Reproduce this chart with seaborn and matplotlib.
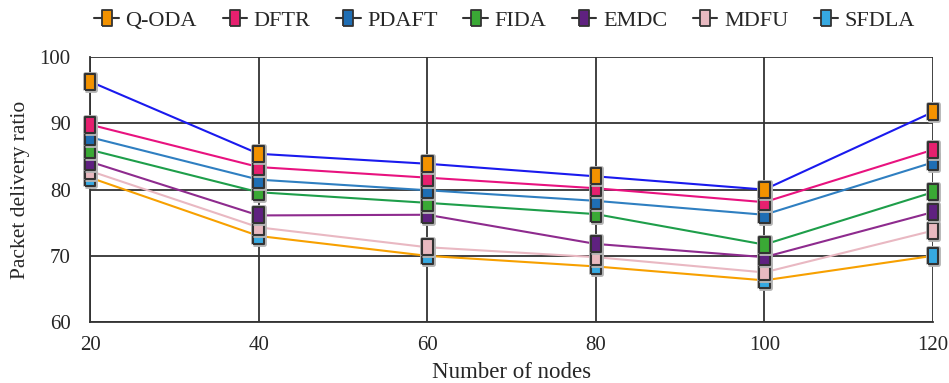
import matplotlib
matplotlib.use('Agg')
import matplotlib.pyplot as plt
import matplotlib.patheffects as pe
from matplotlib.lines import Line2D
import seaborn as sns
import pandas as pd

# valores
nodes = [20, 40, 60, 80, 100, 120]
q_oda = [96.3, 85.4, 83.9, 82.0, 80.0, 91.7]
dftr = [89.8, 83.4, 81.8, 80.2, 78.1, 86.0]
pdaft = [87.9, 81.5, 79.9, 78.3, 76.2, 84.1]
fida = [86.0, 79.6, 78.0, 76.3, 71.7, 79.6]
emdc = [84.2, 76.1, 76.2, 71.8, 69.8, 76.6]
mdfu = [82.8, 74.3, 71.3, 69.8, 67.5, 73.8]
sfdla = [81.8, 73.0, 70.0, 68.4, 66.3, 70.0]

methods = ['Q-ODA', 'DFTR', 'PDAFT', 'FIDA', 'EMDC', 'MDFU', 'SFDLA']
series = [q_oda, dftr, pdaft, fida, emdc, mdfu, sfdla]
line_colors = ['#1a1aee', '#e8127f', '#2f7fc1', '#1e9e4a', '#8e2b8e', '#e9b8c2', '#f7a000']
marker_colors = ['#f39200', '#e6206f', '#1f6eb4', '#3aa935', '#5f2180', '#e8b9c0', '#36a9e1']

df = pd.DataFrame({
    'nodes': nodes * len(methods),
    'pdr': [v for s in series for v in s],
    'method': [m for m in methods for _ in nodes],
})

sns.set_style('white')
plt.rcParams['font.family'] = ['Liberation Serif', 'DejaVu Serif']

fig, ax = plt.subplots(figsize=(9.49, 3.83), dpi=100)
fig.subplots_adjust(left=0.095, right=0.983, top=0.851, bottom=0.159)

sns.lineplot(data=df, x='nodes', y='pdr', hue='method', hue_order=methods,
             palette=line_colors, linewidth=1.5, legend=False, ax=ax, zorder=5)

# marcador rectangular alto
rect = [(-0.33, -0.5), (0.33, -0.5), (0.33, 0.5), (-0.33, 0.5), (-0.33, -0.5)]
shadow = [pe.withStroke(linewidth=3.5, foreground='#b5b5b5')]
for i, (name, vals) in enumerate(zip(methods, series)):
    ax.plot(nodes, vals, linestyle='none', marker=rect, markersize=11.5,
            mfc=marker_colors[i], mec='#333333', mew=1.5, zorder=20 - i,
            clip_on=False, path_effects=shadow)

ax.set_xlim(20, 120)
ax.set_ylim(60, 100)
ax.set_xticks(nodes)
ax.set_yticks([60, 70, 80, 90, 100])
ax.grid(True, color='#333333', linewidth=1.3)
ax.set_axisbelow(True)
for side in ['top', 'right']:
    ax.spines[side].set_visible(False)
for side in ['left', 'bottom']:
    ax.spines[side].set_color('#333333')
    ax.spines[side].set_linewidth(1.3)
ax.tick_params(length=0, labelsize=15)
ax.tick_params(axis='y', pad=14)
ax.tick_params(axis='x', pad=10)
ax.set_xlabel('Number of nodes', fontsize=16.5, labelpad=5)
ax.set_ylabel('Packet delivery ratio', fontsize=15.5, labelpad=7)

handles = [Line2D([0], [0], color='#333333', lw=1.5, marker=rect, markersize=11.5,
                  mfc=marker_colors[i], mec='#333333', mew=1.3)
           for i in range(len(methods))]
fig.legend(handles, methods, loc='upper center', bbox_to_anchor=(0.532, 1.025),
           ncol=7, frameon=False, fontsize=16, handlelength=1.1,
           handletextpad=0.3, columnspacing=1.15)

fig.savefig('out.png', dpi=100)
plt.close(fig)
